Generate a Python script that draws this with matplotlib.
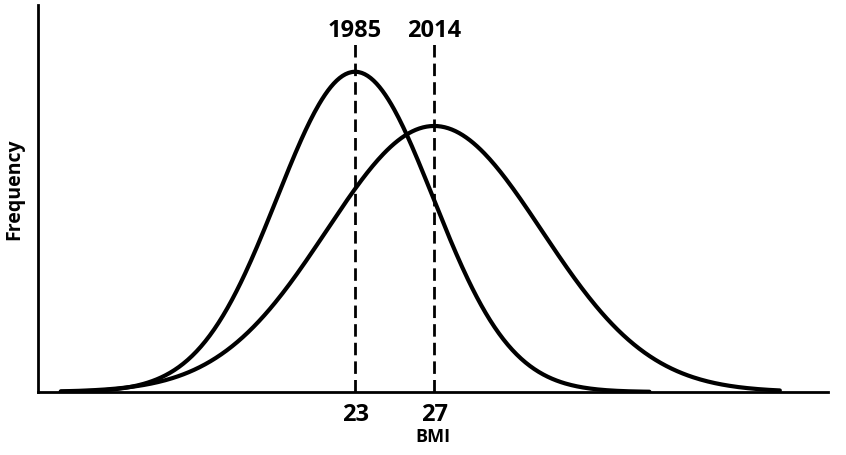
import numpy as np
import matplotlib.pyplot as plt

# survey years and the BMI distribution of each (mean, spread, peak height)
years = ['1985', '2014']
means = [23, 27]
spreads = [3.95, 5.45]
peaks = [0.827, 0.687]
ranges = [(8.1, 37.9), (8.1, 44.5)]
xticks = [23, 27]

plt.rcParams['font.family'] = ['Open Sans', 'DejaVu Sans']
plt.rcParams['font.weight'] = 'bold'

fig = plt.figure(figsize=(8.46, 4.55), dpi=100)
ax = fig.add_axes([0.045, 0.1385, 0.934, 0.851])

for year, mu, sd, h, (lo, hi) in zip(years, means, spreads, peaks, ranges):
    x = np.linspace(lo, hi, 400)
    y = h * np.exp(-0.5 * ((x - mu) / sd) ** 2)
    ax.plot(x, y, color='black', lw=3, solid_capstyle='round')
    ax.plot([mu, mu], [0, 0.905], color='black', lw=2, dashes=(4.5, 2.2))
    ax.text(mu, 0.918, year, ha='center', va='baseline', fontsize=17, fontweight='bold')

ax.set_xlim(6.95, 46.95)
ax.set_ylim(0, 1)
ax.set_xticks(xticks)
ax.set_xticklabels([str(t) for t in xticks], fontsize=17, fontweight='bold')
ax.tick_params(axis='x', length=0, pad=8)
ax.set_yticks([])
ax.set_xlabel('BMI', fontsize=13, fontweight='bold', labelpad=1)
ax.set_ylabel('Frequency', fontsize=14, fontweight='bold')
ax.yaxis.set_label_coords(-0.017, 0.525)

for side in ['top', 'right']:
    ax.spines[side].set_visible(False)
for side in ['left', 'bottom']:
    ax.spines[side].set_linewidth(2)

fig.savefig('out.png', dpi=100)
